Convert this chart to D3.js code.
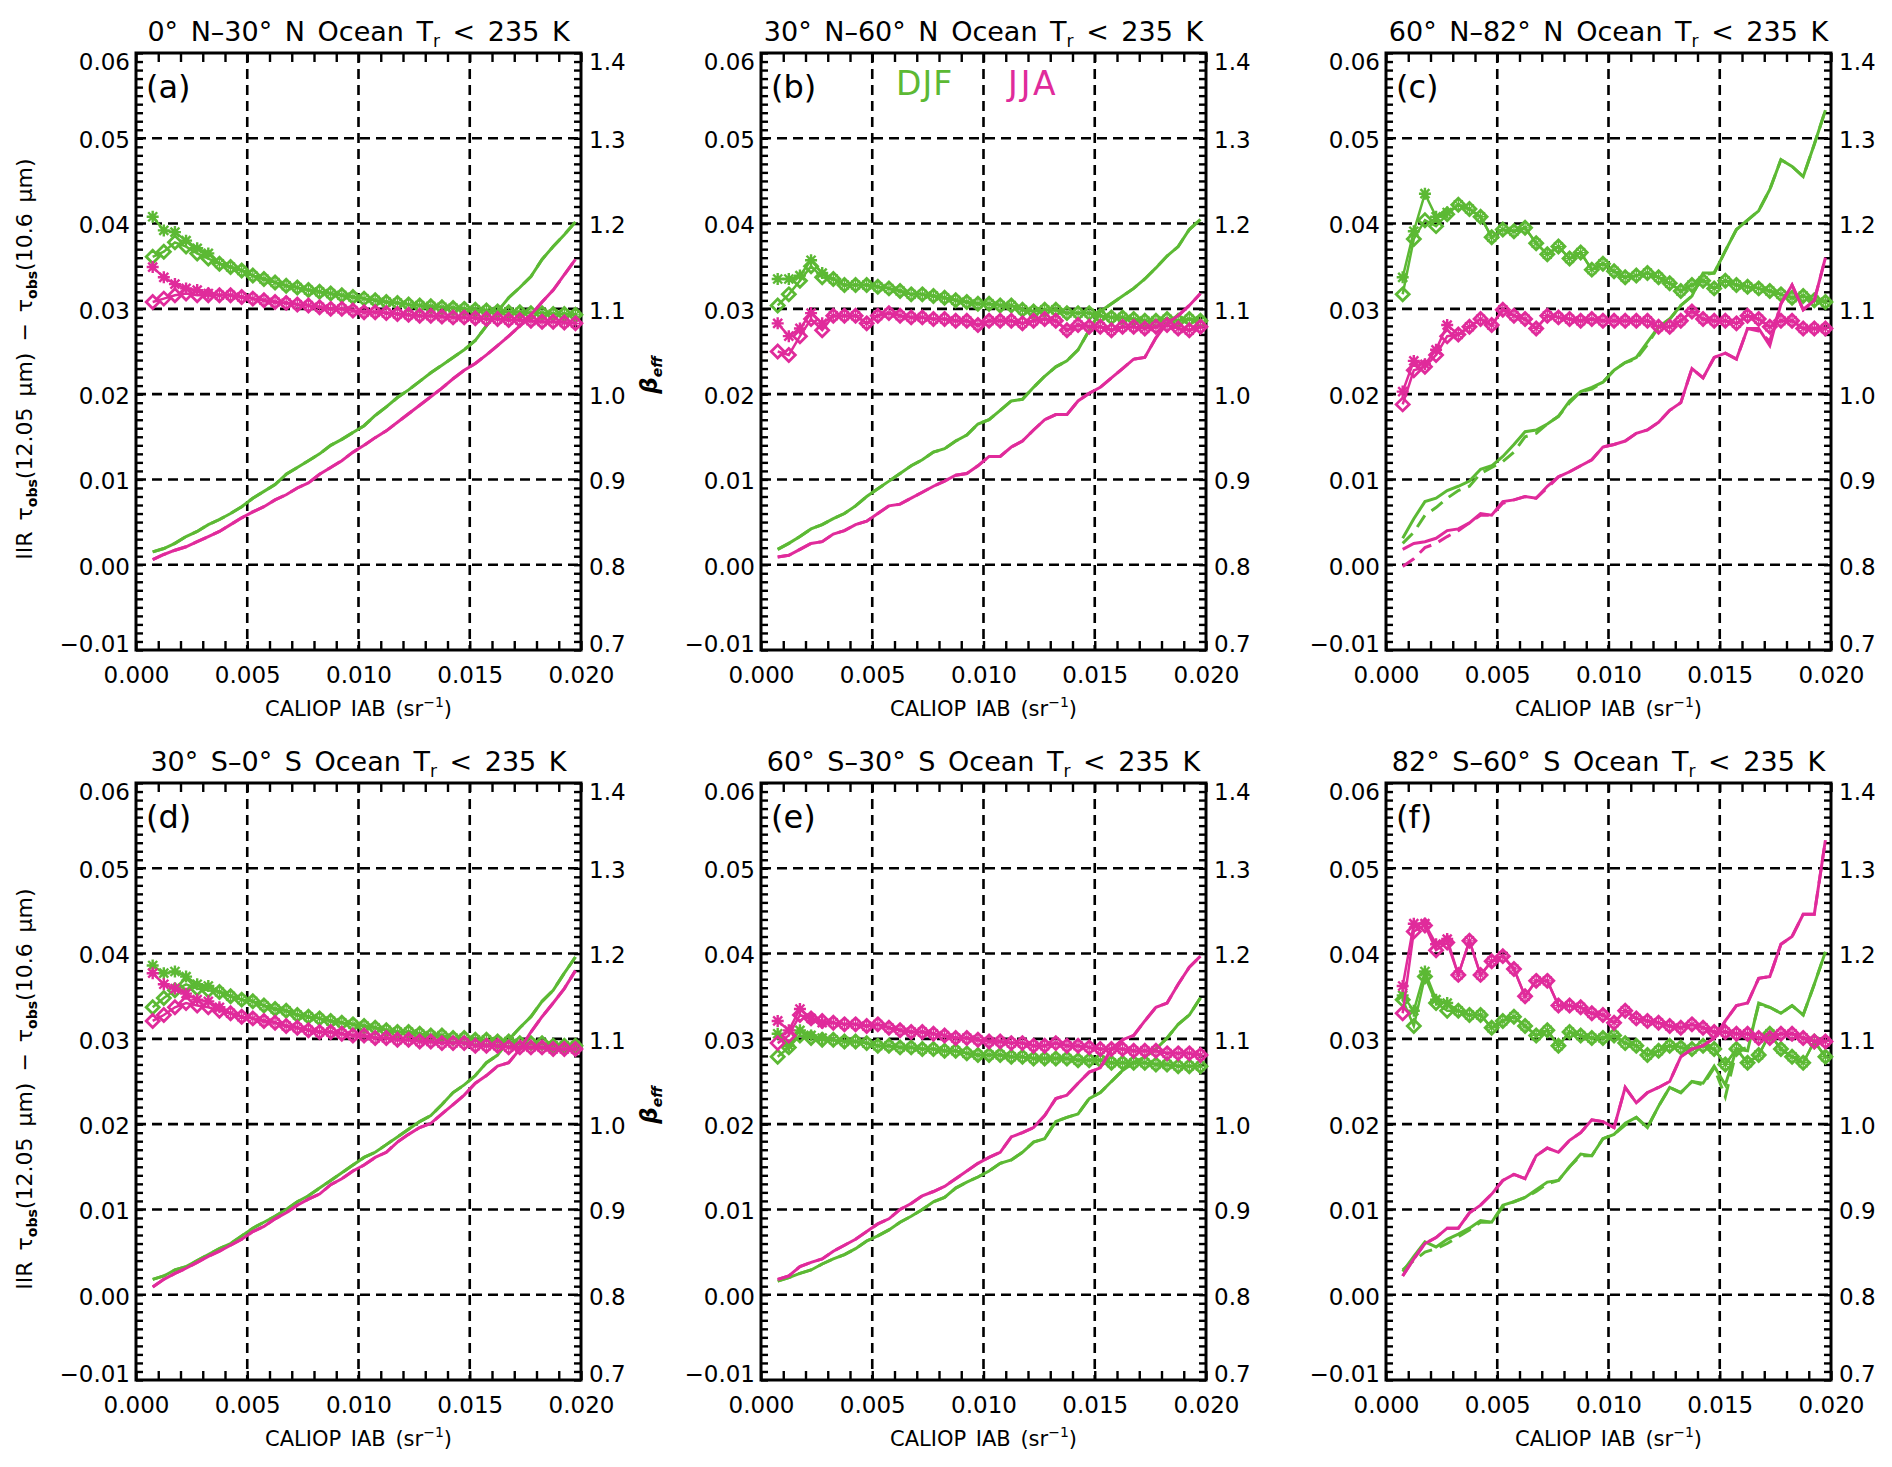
<!DOCTYPE html>
<html>
<head>
<meta charset="utf-8">
<script src="https://cdn.jsdelivr.net/npm/d3@7"></script>
<style>
  body { margin: 0; background: #fff; }
  text { font-family: "DejaVu Sans", "Liberation Sans", sans-serif; fill: #000; }
</style>
</head>
<body>
<svg id="chart"></svg>
<script>
// ---- data ----
const iab = [0.00075, 0.00125, 0.00175, 0.00225, 0.00275, 0.00325, 0.00375, 0.00425, 0.00475, 0.00525,
  0.00575, 0.00625, 0.00675, 0.00725, 0.00775, 0.00825, 0.00875, 0.00925, 0.00975, 0.01025,
  0.01075, 0.01125, 0.01175, 0.01225, 0.01275, 0.01325, 0.01375, 0.01425, 0.01475, 0.01525,
  0.01575, 0.01625, 0.01675, 0.01725, 0.01775, 0.01825, 0.01875, 0.01925, 0.01975];

const xTicks = [0.000, 0.005, 0.010, 0.015, 0.020];
const yTicks = [-0.01, 0.00, 0.01, 0.02, 0.03, 0.04, 0.05, 0.06];
const betaTicks = [0.7, 0.8, 0.9, 1.0, 1.1, 1.2, 1.3, 1.4];
const seasons = ["DJF", "JJA"];

// (a) 0N-30N
const tauDJF_a = [0.0015, 0.0019, 0.0025, 0.0033, 0.0039, 0.0047, 0.0053, 0.0060, 0.0068, 0.0078, 0.0086, 0.0094, 0.0106, 0.0114, 0.0122, 0.0130, 0.0140, 0.0147, 0.0155, 0.0163, 0.0175, 0.0185, 0.0196, 0.0205, 0.0215, 0.0225, 0.0234, 0.0243, 0.0252, 0.0263, 0.0280, 0.0297, 0.0313, 0.0325, 0.0338, 0.0358, 0.0373, 0.0387, 0.0402];
const tauJJA_a = [0.0006, 0.0012, 0.0017, 0.0021, 0.0027, 0.0033, 0.0039, 0.0047, 0.0055, 0.0062, 0.0068, 0.0076, 0.0082, 0.0090, 0.0096, 0.0106, 0.0114, 0.0122, 0.0132, 0.0140, 0.0149, 0.0157, 0.0167, 0.0177, 0.0187, 0.0197, 0.0207, 0.0218, 0.0228, 0.0236, 0.0246, 0.0257, 0.0268, 0.0280, 0.0293, 0.0308, 0.0322, 0.0340, 0.0358];
const betaDJF_a = [1.161, 1.167, 1.178, 1.173, 1.165, 1.159, 1.153, 1.149, 1.145, 1.139, 1.135, 1.131, 1.127, 1.125, 1.122, 1.120, 1.118, 1.116, 1.114, 1.112, 1.110, 1.108, 1.107, 1.105, 1.104, 1.103, 1.102, 1.101, 1.100, 1.099, 1.098, 1.097, 1.096, 1.096, 1.095, 1.095, 1.094, 1.094, 1.093];
const betaJJA_a = [1.108, 1.112, 1.116, 1.118, 1.116, 1.116, 1.116, 1.116, 1.114, 1.112, 1.110, 1.108, 1.107, 1.105, 1.104, 1.102, 1.100, 1.100, 1.098, 1.096, 1.096, 1.095, 1.094, 1.093, 1.092, 1.092, 1.091, 1.090, 1.090, 1.089, 1.088, 1.088, 1.087, 1.087, 1.086, 1.085, 1.085, 1.084, 1.083];
const astDJF_a = [1.208, 1.192, 1.190, 1.180, 1.171, 1.165];
const astJJA_a = [1.149, 1.137, 1.129, 1.124, 1.122, 1.118];

// (b) 30N-60N
const tauDJF_b = [0.0018, 0.0025, 0.0033, 0.0042, 0.0047, 0.0054, 0.0060, 0.0069, 0.0080, 0.0089, 0.0098, 0.0107, 0.0116, 0.0123, 0.0132, 0.0136, 0.0145, 0.0152, 0.0165, 0.0170, 0.0181, 0.0192, 0.0194, 0.0208, 0.0221, 0.0232, 0.0239, 0.0252, 0.0275, 0.0297, 0.0306, 0.0315, 0.0324, 0.0335, 0.0348, 0.0362, 0.0373, 0.0393, 0.0405];
const tauJJA_b = [0.0009, 0.0011, 0.0018, 0.0025, 0.0027, 0.0036, 0.0040, 0.0047, 0.0051, 0.0060, 0.0069, 0.0071, 0.0078, 0.0085, 0.0092, 0.0098, 0.0105, 0.0107, 0.0116, 0.0127, 0.0127, 0.0138, 0.0145, 0.0158, 0.0170, 0.0176, 0.0176, 0.0192, 0.0201, 0.0208, 0.0219, 0.0230, 0.0241, 0.0243, 0.0266, 0.0283, 0.0292, 0.0304, 0.0318];
const betaDJF_b = [1.104, 1.117, 1.133, 1.150, 1.137, 1.135, 1.128, 1.128, 1.128, 1.126, 1.124, 1.121, 1.117, 1.117, 1.115, 1.113, 1.110, 1.108, 1.106, 1.106, 1.104, 1.104, 1.099, 1.097, 1.099, 1.099, 1.095, 1.095, 1.095, 1.092, 1.090, 1.090, 1.088, 1.086, 1.086, 1.088, 1.086, 1.088, 1.086];
const betaJJA_b = [1.050, 1.046, 1.068, 1.088, 1.075, 1.092, 1.092, 1.092, 1.083, 1.092, 1.095, 1.092, 1.090, 1.090, 1.088, 1.088, 1.086, 1.086, 1.081, 1.086, 1.086, 1.086, 1.083, 1.086, 1.088, 1.086, 1.075, 1.081, 1.079, 1.079, 1.075, 1.079, 1.079, 1.077, 1.079, 1.081, 1.077, 1.075, 1.079];
const astDJF_b = [1.135, 1.135, 1.139, 1.157, 1.142];
const astJJA_b = [1.083, 1.068, 1.077, 1.095, 1.083];

// (c) 60N-82N
const tauDJF_c = [0.0031, 0.0054, 0.0074, 0.0078, 0.0087, 0.0092, 0.0098, 0.0112, 0.0116, 0.0127, 0.0141, 0.0156, 0.0158, 0.0165, 0.0174, 0.0192, 0.0203, 0.0208, 0.0214, 0.0228, 0.0237, 0.0243, 0.0261, 0.0279, 0.0288, 0.0304, 0.0315, 0.0342, 0.0342, 0.0368, 0.0393, 0.0404, 0.0415, 0.0440, 0.0475, 0.0467, 0.0455, 0.0493, 0.0533];
const tauJJA_c = [0.0018, 0.0025, 0.0027, 0.0031, 0.0040, 0.0042, 0.0049, 0.0060, 0.0058, 0.0074, 0.0076, 0.0080, 0.0078, 0.0092, 0.0103, 0.0109, 0.0116, 0.0123, 0.0138, 0.0141, 0.0145, 0.0154, 0.0158, 0.0167, 0.0181, 0.0190, 0.0230, 0.0219, 0.0243, 0.0248, 0.0241, 0.0277, 0.0277, 0.0257, 0.0306, 0.0328, 0.0299, 0.0310, 0.0360];
const tauDashDJF_c = [0.0025, 0.0038, 0.0058, 0.0067, 0.0078, 0.0087, 0.0092, 0.0107, 0.0114, 0.0121, 0.0132, 0.0150, 0.0154, 0.0165, 0.0174, 0.0190, 0.0203, 0.0206, 0.0214, 0.0228, 0.0237, 0.0241, 0.0258, 0.0279, 0.0288, 0.0304, 0.0315, 0.0340, 0.0342, 0.0368, 0.0393, 0.0404, 0.0415, 0.0440, 0.0475, 0.0467, 0.0455, 0.0493, 0.0533];
const tauDashJJA_c = [-0.0002, 0.0007, 0.0020, 0.0025, 0.0033, 0.0040, 0.0049, 0.0058, 0.0058, 0.0072, 0.0076, 0.0080, 0.0078, 0.0090, 0.0103, 0.0109, 0.0116, 0.0123, 0.0138, 0.0141, 0.0145, 0.0154, 0.0158, 0.0167, 0.0181, 0.0190, 0.0230, 0.0219, 0.0243, 0.0248, 0.0241, 0.0277, 0.0274, 0.0262, 0.0306, 0.0328, 0.0299, 0.0310, 0.0360];
const betaDJF_c = [1.117, 1.182, 1.204, 1.197, 1.211, 1.222, 1.217, 1.208, 1.184, 1.193, 1.191, 1.195, 1.177, 1.164, 1.173, 1.159, 1.166, 1.146, 1.153, 1.144, 1.137, 1.139, 1.142, 1.137, 1.130, 1.121, 1.128, 1.133, 1.124, 1.133, 1.128, 1.126, 1.124, 1.121, 1.117, 1.113, 1.115, 1.110, 1.108];
const betaJJA_c = [0.988, 1.028, 1.032, 1.046, 1.068, 1.070, 1.079, 1.088, 1.081, 1.099, 1.092, 1.088, 1.077, 1.092, 1.090, 1.088, 1.086, 1.088, 1.086, 1.086, 1.086, 1.086, 1.086, 1.079, 1.079, 1.086, 1.097, 1.088, 1.086, 1.086, 1.083, 1.092, 1.088, 1.079, 1.086, 1.086, 1.077, 1.077, 1.077];
const astDJF_c = [1.137, 1.191, 1.235, 1.208, 1.213];
const astJJA_c = [1.003, 1.039, 1.035, 1.052, 1.081];

// (d) 30S-0S
const tauDJF_d = [0.0018, 0.0022, 0.0029, 0.0033, 0.0040, 0.0047, 0.0054, 0.0060, 0.0069, 0.0078, 0.0085, 0.0092, 0.0100, 0.0109, 0.0116, 0.0125, 0.0134, 0.0143, 0.0152, 0.0161, 0.0167, 0.0176, 0.0185, 0.0194, 0.0203, 0.0210, 0.0223, 0.0237, 0.0246, 0.0257, 0.0272, 0.0281, 0.0299, 0.0313, 0.0326, 0.0344, 0.0357, 0.0377, 0.0396];
const tauJJA_d = [0.0009, 0.0018, 0.0025, 0.0031, 0.0038, 0.0045, 0.0051, 0.0058, 0.0065, 0.0074, 0.0080, 0.0089, 0.0096, 0.0105, 0.0112, 0.0118, 0.0129, 0.0136, 0.0145, 0.0152, 0.0161, 0.0167, 0.0179, 0.0188, 0.0196, 0.0201, 0.0212, 0.0223, 0.0234, 0.0248, 0.0257, 0.0268, 0.0272, 0.0288, 0.0308, 0.0326, 0.0342, 0.0359, 0.0380];
const betaDJF_d = [1.137, 1.148, 1.157, 1.164, 1.159, 1.157, 1.155, 1.150, 1.146, 1.144, 1.139, 1.135, 1.133, 1.128, 1.126, 1.124, 1.121, 1.119, 1.117, 1.115, 1.113, 1.110, 1.108, 1.108, 1.106, 1.104, 1.104, 1.101, 1.101, 1.099, 1.099, 1.097, 1.097, 1.095, 1.095, 1.095, 1.092, 1.092, 1.092];
const betaJJA_d = [1.121, 1.128, 1.137, 1.142, 1.139, 1.137, 1.133, 1.130, 1.126, 1.124, 1.121, 1.119, 1.115, 1.113, 1.110, 1.108, 1.108, 1.106, 1.104, 1.104, 1.101, 1.101, 1.099, 1.099, 1.097, 1.097, 1.095, 1.095, 1.095, 1.092, 1.092, 1.092, 1.090, 1.090, 1.090, 1.090, 1.088, 1.088, 1.088];
const astDJF_d = [1.186, 1.177, 1.179, 1.173, 1.164, 1.162];
const astJJA_d = [1.177, 1.164, 1.159, 1.153, 1.146, 1.144, 1.137];

// (e) 60S-30S
const tauDJF_e = [0.0016, 0.0020, 0.0025, 0.0029, 0.0036, 0.0042, 0.0047, 0.0054, 0.0063, 0.0069, 0.0076, 0.0085, 0.0092, 0.0100, 0.0109, 0.0114, 0.0125, 0.0132, 0.0138, 0.0145, 0.0154, 0.0158, 0.0167, 0.0179, 0.0183, 0.0203, 0.0208, 0.0212, 0.0230, 0.0237, 0.0250, 0.0263, 0.0272, 0.0279, 0.0288, 0.0301, 0.0317, 0.0328, 0.0348];
const tauJJA_e = [0.0018, 0.0022, 0.0033, 0.0038, 0.0042, 0.0051, 0.0058, 0.0065, 0.0074, 0.0083, 0.0089, 0.0100, 0.0107, 0.0116, 0.0121, 0.0127, 0.0136, 0.0145, 0.0154, 0.0161, 0.0167, 0.0185, 0.0190, 0.0196, 0.0210, 0.0230, 0.0234, 0.0248, 0.0261, 0.0266, 0.0288, 0.0299, 0.0304, 0.0321, 0.0337, 0.0342, 0.0364, 0.0384, 0.0397];
const betaDJF_e = [1.079, 1.090, 1.104, 1.101, 1.099, 1.099, 1.097, 1.097, 1.095, 1.092, 1.092, 1.090, 1.090, 1.088, 1.088, 1.086, 1.086, 1.083, 1.081, 1.081, 1.081, 1.079, 1.079, 1.077, 1.077, 1.077, 1.077, 1.075, 1.075, 1.075, 1.072, 1.072, 1.072, 1.072, 1.070, 1.070, 1.068, 1.068, 1.068];
const betaJJA_e = [1.095, 1.104, 1.128, 1.124, 1.121, 1.119, 1.117, 1.117, 1.115, 1.117, 1.113, 1.110, 1.108, 1.108, 1.106, 1.104, 1.101, 1.101, 1.099, 1.097, 1.097, 1.095, 1.095, 1.092, 1.092, 1.095, 1.092, 1.092, 1.090, 1.088, 1.088, 1.088, 1.086, 1.086, 1.086, 1.083, 1.083, 1.083, 1.081];
const astDJF_e = [1.106, 1.092, 1.110, 1.104, 1.101];
const astJJA_e = [1.121, 1.110, 1.135, 1.124, 1.119];

// (f) 82S-60S
const tauDJF_f = [0.0027, 0.0045, 0.0062, 0.0056, 0.0065, 0.0071, 0.0078, 0.0087, 0.0085, 0.0105, 0.0109, 0.0114, 0.0123, 0.0132, 0.0134, 0.0150, 0.0165, 0.0163, 0.0183, 0.0188, 0.0201, 0.0208, 0.0196, 0.0221, 0.0243, 0.0237, 0.0250, 0.0248, 0.0268, 0.0246, 0.0288, 0.0286, 0.0342, 0.0337, 0.0330, 0.0339, 0.0328, 0.0364, 0.0402];
const tauJJA_f = [0.0022, 0.0042, 0.0060, 0.0067, 0.0078, 0.0078, 0.0096, 0.0105, 0.0118, 0.0134, 0.0141, 0.0136, 0.0163, 0.0172, 0.0167, 0.0181, 0.0190, 0.0205, 0.0203, 0.0196, 0.0243, 0.0225, 0.0237, 0.0243, 0.0250, 0.0279, 0.0288, 0.0292, 0.0301, 0.0321, 0.0339, 0.0342, 0.0371, 0.0373, 0.0411, 0.0420, 0.0446, 0.0446, 0.0533];
const tauDashDJF_f = [0.0029, 0.0040, 0.0050, 0.0054, 0.0060, 0.0068, 0.0076, 0.0085, 0.0085, 0.0103, 0.0109, 0.0114, 0.0121, 0.0130, 0.0134, 0.0150, 0.0163, 0.0163, 0.0183, 0.0188, 0.0199, 0.0208, 0.0196, 0.0221, 0.0243, 0.0237, 0.0250, 0.0246, 0.0266, 0.0232, 0.0286, 0.0290, 0.0340, 0.0337, 0.0330, 0.0339, 0.0328, 0.0364, 0.0402];
const betaDJF_f = [1.146, 1.115, 1.173, 1.142, 1.133, 1.133, 1.128, 1.128, 1.113, 1.121, 1.126, 1.115, 1.104, 1.110, 1.092, 1.108, 1.104, 1.101, 1.101, 1.104, 1.095, 1.092, 1.081, 1.086, 1.092, 1.090, 1.088, 1.092, 1.088, 1.070, 1.088, 1.072, 1.081, 1.106, 1.088, 1.079, 1.072, 1.097, 1.079];
const betaJJA_f = [1.130, 1.226, 1.233, 1.204, 1.213, 1.175, 1.215, 1.175, 1.191, 1.197, 1.182, 1.150, 1.168, 1.168, 1.139, 1.139, 1.137, 1.130, 1.128, 1.119, 1.133, 1.124, 1.121, 1.119, 1.115, 1.113, 1.117, 1.113, 1.108, 1.108, 1.106, 1.106, 1.101, 1.101, 1.106, 1.106, 1.101, 1.097, 1.097];
const astDJF_f = [1.151, 1.133, 1.179, 1.146, 1.142];
const astJJA_f = [1.162, 1.235, 1.235, 1.211, 1.217];

const regions = ["0° N–30° N", "30° N–60° N", "60° N–82° N", "30° S–0° S", "60° S–30° S", "82° S–60° S"];
const letters = ["a", "b", "c", "d", "e", "f"];

// ---- layout ----
const W = 1892, H = 1467;
const colLeft = [136, 761, 1386], rowTop = [53, 783];
const pw = 445, ph = 597;
const colors = { DJF: "#5cb934", JJA: "#e02b9b" };

const panels = [
  { tau: [tauDJF_a, tauJJA_a], dash: [tauDJF_a, tauJJA_a], beta: [betaDJF_a, betaJJA_a], ast: [astDJF_a, astJJA_a] },
  { tau: [tauDJF_b, tauJJA_b], dash: [tauDJF_b, tauJJA_b], beta: [betaDJF_b, betaJJA_b], ast: [astDJF_b, astJJA_b] },
  { tau: [tauDJF_c, tauJJA_c], dash: [tauDashDJF_c, tauDashJJA_c], beta: [betaDJF_c, betaJJA_c], ast: [astDJF_c, astJJA_c] },
  { tau: [tauDJF_d, tauJJA_d], dash: [tauDJF_d, tauJJA_d], beta: [betaDJF_d, betaJJA_d], ast: [astDJF_d, astJJA_d] },
  { tau: [tauDJF_e, tauJJA_e], dash: [tauDJF_e, tauJJA_e], beta: [betaDJF_e, betaJJA_e], ast: [astDJF_e, astJJA_e] },
  { tau: [tauDJF_f, tauJJA_f], dash: [tauDashDJF_f, tauJJA_f], beta: [betaDJF_f, betaJJA_f], ast: [astDJF_f, astJJA_f] }
];

const svg = d3.select("#chart").attr("width", W).attr("height", H);
svg.append("rect").attr("width", W).attr("height", H).attr("fill", "#fff");

const diamond = "M0,-6.5L6.5,0L0,6.5L-6.5,0Z";
const asterisk = "M-6,0H6M0,-6V6M-4.5,-4.5L4.5,4.5M-4.5,4.5L4.5,-4.5";

panels.forEach((p, k) => {
  const left = colLeft[k % 3], top = rowTop[Math.floor(k / 3)];
  const x = d3.scaleLinear().domain([0, 0.02]).range([left, left + pw]);
  const yL = d3.scaleLinear().domain([-0.01, 0.06]).range([top + ph, top]);
  const yR = d3.scaleLinear().domain([0.7, 1.4]).range([top + ph, top]);
  const g = svg.append("g");

  // dashed grid
  const grid = g.append("g").attr("stroke", "#000").attr("stroke-width", 2.6).attr("stroke-dasharray", "10,6");
  xTicks.slice(1, -1).forEach(v => grid.append("line")
    .attr("x1", x(v)).attr("x2", x(v)).attr("y1", top).attr("y2", top + ph));
  yTicks.slice(1, -1).forEach(v => grid.append("line")
    .attr("x1", left).attr("x2", left + pw).attr("y1", yL(v)).attr("y2", yL(v)));

  // minor ticks (inward)
  const minorX = d3.range(0, 21).map(i => i * 0.001);
  const minorY = d3.range(0, 71).map(i => -0.01 + i * 0.001);
  const minorB = d3.range(0, 71).map(i => 0.7 + i * 0.01);
  const tickStyle = sel => { sel.select(".domain").remove(); sel.selectAll("line").attr("stroke", "#000").attr("stroke-width", 2.4); };
  g.append("g").attr("transform", `translate(0,${top + ph})`)
    .call(d3.axisBottom(x).tickValues(minorX).tickSize(-9).tickFormat("")).call(tickStyle);
  g.append("g").attr("transform", `translate(0,${top})`)
    .call(d3.axisTop(x).tickValues(minorX).tickSize(-9).tickFormat("")).call(tickStyle);
  g.append("g").attr("transform", `translate(${left},0)`)
    .call(d3.axisLeft(yL).tickValues(minorY).tickSize(-7).tickFormat("")).call(tickStyle);
  g.append("g").attr("transform", `translate(${left + pw},0)`)
    .call(d3.axisRight(yR).tickValues(minorB).tickSize(-7).tickFormat("")).call(tickStyle);

  // tick labels (end labels nudged inward like the original)
  const labStyle = sel => { sel.select(".domain").remove(); sel.selectAll("line").remove();
    sel.attr("font-family", null).attr("font-size", 23); };
  const nudge = sel => sel.selectAll(".tick text").attr("y", (d, i, n) => i === 0 ? -6 : (i === n.length - 1 ? 9 : 2));
  g.append("g").attr("transform", `translate(0,${top + ph})`)
    .call(d3.axisBottom(x).tickValues(xTicks).tickSize(0).tickPadding(17).tickFormat(d3.format(".3f"))).call(labStyle);
  g.append("g").attr("transform", `translate(${left},0)`)
    .call(d3.axisLeft(yL).tickValues(yTicks).tickSize(0).tickPadding(6).tickFormat(d3.format(".2f"))).call(labStyle).call(nudge);
  g.append("g").attr("transform", `translate(${left + pw},0)`)
    .call(d3.axisRight(yR).tickValues(betaTicks).tickSize(0).tickPadding(8).tickFormat(d3.format(".1f"))).call(labStyle).call(nudge);

  // frame
  g.append("rect").attr("x", left).attr("y", top).attr("width", pw).attr("height", ph)
    .attr("fill", "none").attr("stroke", "#000").attr("stroke-width", 3);

  // series
  const line = (ys, sc) => d3.line().x((d, i) => x(iab[i])).y(d => sc(d))(ys);
  seasons.forEach((s, j) => {
    const c = colors[s];
    g.append("path").attr("d", line(p.tau[j], yL)).attr("fill", "none")
      .attr("stroke", c).attr("stroke-width", 3);
    g.append("path").attr("d", line(p.dash[j], yL)).attr("fill", "none")
      .attr("stroke", c).attr("stroke-width", 3).attr("stroke-dasharray", "14,8");
    const astSeries = p.ast[j].concat(p.beta[j].slice(p.ast[j].length));
    g.append("path").attr("d", line(astSeries, yR)).attr("fill", "none")
      .attr("stroke", c).attr("stroke-width", 2.5);
    g.append("g").selectAll("path").data(astSeries).join("path")
      .attr("transform", (d, i) => `translate(${x(iab[i])},${yR(d)})`)
      .attr("d", asterisk).attr("stroke", c).attr("stroke-width", (d, i) => i < p.ast[j].length ? 2.4 : 1.3)
      .attr("fill", "none");
    g.append("path").attr("d", line(p.beta[j], yR)).attr("fill", "none")
      .attr("stroke", c).attr("stroke-width", 2.5);
    g.append("g").selectAll("path").data(p.beta[j]).join("path")
      .attr("transform", (d, i) => `translate(${x(iab[i])},${yR(d)})`)
      .attr("d", diamond).attr("stroke", c).attr("stroke-width", 2.8).attr("fill", "none");
  });

  // title
  const t = g.append("text").attr("x", left + pw / 2).attr("y", top - 12)
    .attr("text-anchor", "middle").attr("font-size", 27).attr("word-spacing", 4);
  t.append("tspan").text(regions[k] + " Ocean T");
  t.append("tspan").attr("font-size", 17).attr("dy", 6).text("r");
  t.append("tspan").attr("dy", -6).text(" < 235 K");

  // panel letter
  g.append("text").attr("x", left + 10).attr("y", top + 45).attr("font-size", 32).text(`(${letters[k]})`);

  // x axis title
  const xt = g.append("text").attr("x", left + pw / 2).attr("y", top + ph + 66)
    .attr("text-anchor", "middle").attr("font-size", 21).attr("word-spacing", 3);
  xt.append("tspan").text("CALIOP IAB (sr");
  xt.append("tspan").attr("font-size", 14).attr("dy", -9).text("−1");
  xt.append("tspan").attr("dy", 9).text(")");

  if (k % 3 === 0) {
    const yt = g.append("text").attr("transform", `translate(32,${top + 306}) rotate(-90)`)
      .attr("text-anchor", "middle").attr("font-size", 22).attr("word-spacing", 4);
    yt.append("tspan").text("IIR τ");
    yt.append("tspan").attr("font-size", 14).attr("dy", 5).attr("font-weight", "bold").text("obs");
    yt.append("tspan").attr("dy", -5).text("(12.05 μm) − τ");
    yt.append("tspan").attr("font-size", 14).attr("dy", 5).attr("font-weight", "bold").text("obs");
    yt.append("tspan").attr("dy", -5).text("(10.6 μm)");

    const bt = g.append("text").attr("transform", `translate(657,${top + 322}) rotate(-90)`)
      .attr("text-anchor", "middle").attr("font-size", 23).attr("font-style", "italic").attr("font-weight", "bold");
    bt.append("tspan").text("β");
    bt.append("tspan").attr("font-size", 14).attr("dy", 5).text("eff");
  }

  if (k === 1) {
    seasons.forEach((s, j) => {
      g.append("text").attr("x", left + 135 + j * 112).attr("y", top + 42)
        .attr("font-size", 33).attr("letter-spacing", j === 1 ? 3 : 1)
        .style("fill", colors[s]).text(s);
    });
  }
});
</script>
</body>
</html>
